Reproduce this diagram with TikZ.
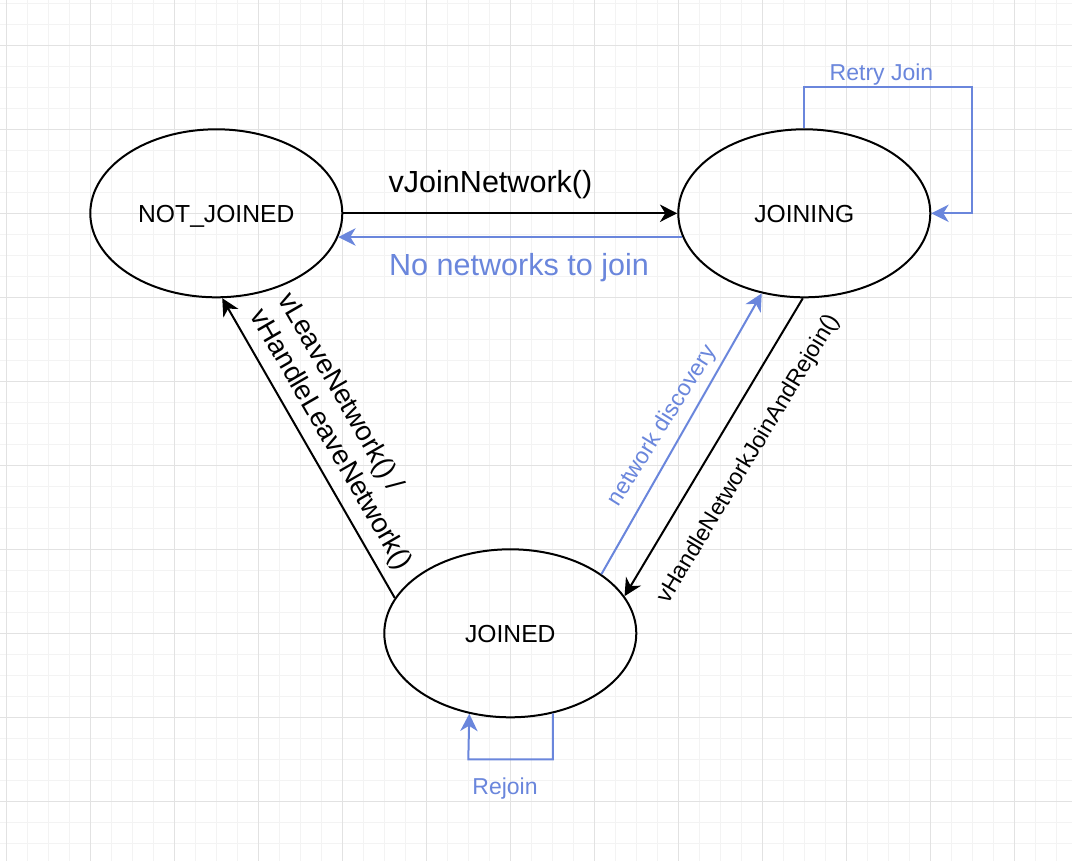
\documentclass[tikz,border=0pt]{standalone}
\usepackage{fontspec}
\setmainfont{Liberation Sans}
\usetikzlibrary{shapes.geometric, arrows.meta, positioning}

\definecolor{flowblue}{HTML}{6A86DC}
\definecolor{gridmajor}{HTML}{E2E2E2}
\definecolor{gridminor}{HTML}{F3F3F3}

\tikzset{
    >={Stealth[length=13pt, width=13pt, inset=4pt]},
    state/.style={draw, ellipse, line width=1.5pt, minimum width=189pt, minimum height=126pt,
        inner sep=0pt, text height=15pt, text depth=0.5pt, font=\fontsize{18.5}{22}\selectfont},
    trans/.style={->, line width=1.5pt},
    bluetrans/.style={->, line width=1.5pt, color=flowblue},
    biglabel/.style={font=\fontsize{22.9}{27}\selectfont, inner sep=0pt},
    smalllabel/.style={font=\fontsize{17.25}{20.7}\selectfont, inner sep=0pt},
    leavelabel/.style={font=\fontsize{20.7}{24}\selectfont, inner sep=0pt}
}

\begin{document}
\begin{tikzpicture}[x=0.75pt, y=-0.75pt]
    % Page and grid
    \fill[white] (0,0) rectangle (1072,861);
    \useasboundingbox (0,0) rectangle (1072,861);
    \foreach \gx in {0,...,50}
        \draw[gridminor, line width=0.75pt] (6.3+21*\gx,0) -- (6.3+21*\gx,861);
    \foreach \gy in {0,...,40}
        \draw[gridminor, line width=0.75pt] (0,3.3+21*\gy) -- (1072,3.3+21*\gy);
    \foreach \gx in {0,...,12}
        \draw[gridmajor, line width=0.75pt] (6.3+84*\gx,0) -- (6.3+84*\gx,861);
    \foreach \gy in {0,...,9}
        \draw[gridmajor, line width=0.75pt] (0,45.3+84*\gy) -- (1072,45.3+84*\gy);

    % States
    \node[state] (notjoined) at (216.3,213.3) {NOT\_JOINED};
    \node[state] (joining) at (804.3,213.3) {JOINING};
    \node[state] (joined) at (510.3,633.3) {JOINED};

    % Transitions between states
    \draw[trans] (notjoined) -- (joining);
    \draw[bluetrans] (joining.191.25) -- (notjoined.-11.25);
    \draw[trans] (joined.163.4) -- (notjoined.-86.15);
    \draw[bluetrans] (joined.33.9) -- (joining.-118.5);
    \draw[trans] (joining.-91) -- (joined.18.2);

    % Self loops
    \coordinate (retrycorner) at (972.3,87.3);
    \draw[bluetrans] (joining.north) |- (retrycorner) |- (joining.east);
    \coordinate (rejoincorner) at (468.3,759.3);
    \draw[bluetrans] (joined.-62.07) |- (rejoincorner) -- (joined.-117.93);

    % Labels
    \node[biglabel, anchor=base] (joinlabel) at (490.5,192) {vJoinNetwork()};
    \node[biglabel, anchor=base, flowblue] (nonetlabel) at (519,275) {No networks to join};
    \node[smalllabel, anchor=base, flowblue] (retrylabel) at (881.5,80.7) {Retry Join};
    \node[smalllabel, anchor=base, flowblue] (rejoinlabel) at (505,794.3) {Rejoin};
    \node[smalllabel, rotate=58, flowblue] (discoverylabel) at (662.5,426) {network discovery};
    \node[smalllabel, rotate=59] (rejoinfnlabel) at (749,459) {vHandleNetworkJoinAndRejoin()};
    \node[leavelabel, rotate=-60, align=left] (leavelabel) at (344,432) {vLeaveNetwork() /\\vHandleLeaveNetwork()};
\end{tikzpicture}
\end{document}
